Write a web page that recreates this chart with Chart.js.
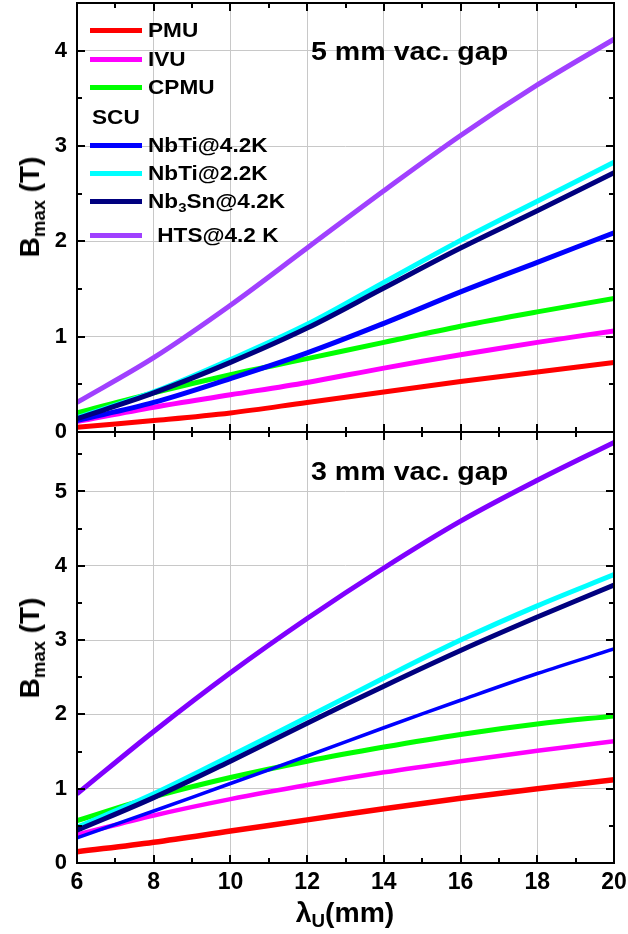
<!DOCTYPE html>
<html>
<head>
<meta charset="utf-8">
<title>Bmax vs undulator period</title>
<script src="https://cdn.jsdelivr.net/npm/chart.js@4.4.1/dist/chart.umd.min.js"></script>
<style>
  html, body { margin: 0; padding: 0; background: #fff; }
  #wrap { position: relative; width: 628px; height: 934px; overflow: hidden;
          font-family: Arial, "Liberation Sans", sans-serif; font-weight: bold; color: #000; }
  #wrap canvas { position: absolute; left: 0; }
  .ytitle { position: absolute; font-size: 28px; line-height: 1; white-space: nowrap;
            transform: translate(-50%, -50%) rotate(-90deg); }
  .ytitle sub, .xtitle sub, .leg sub { font-size: 0.66em; vertical-align: -0.32em; line-height: 0; }
  .xtitle { position: absolute; font-size: 27px; line-height: 1; white-space: nowrap;
            transform: translate(-50%, -50%) scaleX(1.05); }
  .gap { position: absolute; font-size: 26px; line-height: 1; white-space: nowrap;
         transform-origin: 0 50%; transform: translateY(-50%) scaleX(1.1); }
  .leg { position: absolute; left: 0; height: 0; white-space: pre; font-size: 20px; line-height: 1; }
  .leg i { position: absolute; left: 90px; top: -2.5px; width: 52px; height: 5px; }
  .leg span { position: absolute; top: 0; transform-origin: 0 50%; transform: translateY(-50%) scaleX(1.13); }
</style>
</head>
<body>
<div id="wrap">
  <canvas id="cTop" width="628" height="450" style="top:0;width:628px;height:450px"></canvas>
  <canvas id="cBot" width="628" height="514" style="top:420px;width:628px;height:514px"></canvas>
  <div id="legend"></div>
  <div class="gap" style="left:311px;top:51px">5 mm vac. gap</div>
  <div class="gap" style="left:311px;top:471px">3 mm vac. gap</div>
  <div class="ytitle" style="left:30px;top:207px">B<sub>max</sub> (T)</div>
  <div class="ytitle" style="left:30px;top:648px">B<sub>max</sub> (T)</div>
  <div class="xtitle" style="left:345px;top:913px">&lambda;<sub>U</sub>(mm)</div>
</div>
<script>
// undulator period (mm)
var lambdaU = [6, 8, 10, 12, 14, 16, 18, 20];

var seriesNames = ['PMU', 'IVU', 'CPMU', 'NbTi@4.2K', 'NbTi@2.2K', 'Nb<sub>3</sub>Sn@4.2K', ' HTS@4.2 K'];

// 5 mm vacuum gap, Bmax in T
var pmu5    = [0.05, 0.12, 0.20, 0.31, 0.42, 0.53, 0.63, 0.73];
var ivu5    = [0.11, 0.26, 0.39, 0.52, 0.67, 0.81, 0.94, 1.06];
var cpmu5   = [0.20, 0.41, 0.60, 0.77, 0.94, 1.11, 1.26, 1.40];
var nbti42_5 = [0.12, 0.31, 0.56, 0.83, 1.14, 1.47, 1.78, 2.09];
var nbti22_5 = [0.15, 0.42, 0.76, 1.13, 1.57, 2.01, 2.42, 2.83];
var nb3sn5  = [0.14, 0.41, 0.73, 1.09, 1.51, 1.93, 2.32, 2.72];
var hts5    = [0.31, 0.78, 1.33, 1.93, 2.53, 3.11, 3.64, 4.12];

// 3 mm vacuum gap, Bmax in T
var pmu3    = [0.15, 0.28, 0.43, 0.58, 0.73, 0.87, 1.00, 1.12];
var ivu3    = [0.38, 0.64, 0.86, 1.05, 1.22, 1.37, 1.51, 1.64];
var cpmu3   = [0.57, 0.89, 1.15, 1.37, 1.56, 1.73, 1.87, 1.98];
var nbti42_3 = [0.34, 0.70, 1.07, 1.44, 1.82, 2.19, 2.55, 2.88];
var nbti22_3 = [0.48, 0.93, 1.44, 1.96, 2.49, 3.00, 3.46, 3.88];
var nb3sn3  = [0.44, 0.88, 1.37, 1.88, 2.38, 2.86, 3.31, 3.74];
var hts3    = [0.93, 1.77, 2.56, 3.29, 3.97, 4.60, 5.15, 5.66];

var colors5 = ['#ff0000', '#ff00ff', '#00ff00', '#0000ff', '#00ffff', '#00007f', '#a040ff'];
var colors3 = ['#ff0000', '#ff00ff', '#00ff00', '#0000ff', '#00ffff', '#00007f', '#8000ff'];
var widths5 = [5, 5, 5, 5, 5, 5, 5];
var widths3 = [5.5, 4.5, 5, 3.5, 5, 5, 5];

var FONT_FAMILY = 'Arial, "Liberation Sans", sans-serif';
var GRID = { color: '#c8c8c8', lineWidth: 1, drawTicks: false };

// inward ticks on all four sides + black box
var frameTicks = {
  id: 'frameTicks',
  afterDatasetsDraw: function (chart) {
    var ctx = chart.ctx, a = chart.chartArea, x = chart.scales.x, y = chart.scales.y;
    ctx.save();
    ctx.strokeStyle = '#000';
    ctx.lineWidth = 2;
    ctx.strokeRect(a.left, a.top, a.right - a.left, a.bottom - a.top);
    ctx.beginPath();
    for (var v = x.min; v <= x.max; v += 1) {
      var px = Math.round(x.getPixelForValue(v));
      var len = v % 2 === 0 ? 8 : 5;
      ctx.moveTo(px, a.bottom); ctx.lineTo(px, a.bottom - len);
      ctx.moveTo(px, a.top); ctx.lineTo(px, a.top + len);
    }
    for (var w = 0; w <= y.max + 1e-9; w += 0.5) {
      var py = Math.round(y.getPixelForValue(w));
      var l2 = w % 1 === 0 ? 8 : 5;
      ctx.moveTo(a.left, py); ctx.lineTo(a.left + l2, py);
      ctx.moveTo(a.right, py); ctx.lineTo(a.right - l2, py);
    }
    ctx.stroke();
    ctx.restore();
  }
};

function toPoints(vals) {
  return vals.map(function (v, i) { return { x: lambdaU[i], y: v }; });
}

function makePanel(id, series, colors, widths, yMax, showX, pad) {
  var datasets = series.map(function (vals, i) {
    return {
      label: seriesNames[i],
      data: toPoints(vals),
      borderColor: colors[i],
      borderWidth: widths[i],
      pointRadius: 0,
      fill: false,
      tension: 0.35,
      order: series.length - i
    };
  });
  return new Chart(document.getElementById(id).getContext('2d'), {
    type: 'line',
    data: { datasets: datasets },
    options: {
      responsive: false,
      animation: false,
      events: [],
      layout: { padding: pad },
      plugins: { legend: { display: false }, tooltip: { enabled: false } },
      scales: {
        x: {
          type: 'linear', min: 6, max: 20,
          ticks: { stepSize: 2, display: showX, font: { family: FONT_FAMILY, size: 23, weight: 'bold' },
                   color: '#000', padding: 6, maxRotation: 0 },
          grid: GRID,
          border: { display: false },
          afterFit: function (s) { s.height = showX ? 71 : 0; s.paddingLeft = 0; s.paddingRight = 0; }
        },
        y: {
          min: 0, max: yMax,
          ticks: { stepSize: 1, includeBounds: false, font: { family: FONT_FAMILY, size: 22, weight: 'bold' },
                   color: '#000', padding: 10 },
          grid: GRID,
          border: { display: false },
          afterFit: function (s) { s.width = 77; s.paddingTop = 0; s.paddingBottom = 0; }
        }
      }
    },
    plugins: [frameTicks]
  });
}

// html legend built from the series names / colours
var legendRows = [
  { s: 0, y: 30 }, { s: 1, y: 59 }, { s: 2, y: 87 }, { s: 'SCU', y: 117 },
  { s: 3, y: 145 }, { s: 4, y: 173 }, { s: 5, y: 201 }, { s: 6, y: 235 }
];
document.getElementById('legend').innerHTML = legendRows.map(function (r) {
  if (r.s === 'SCU') return '<div class="leg" style="top:' + r.y + 'px"><span style="left:92px">SCU</span></div>';
  var tx = r.s === 6 ? 151 : 148;
  return '<div class="leg" style="top:' + r.y + 'px"><i style="background:' + colors5[r.s] + '"></i>' +
    '<span style="left:' + tx + 'px">' + seriesNames[r.s] + '</span></div>';
}).join('');

makePanel('cTop', [pmu5, ivu5, cpmu5, nbti42_5, nbti22_5, nb3sn5, hts5], colors5, widths5, 4.5, false,
  { top: 3, right: 14, bottom: 18, left: 0 });
makePanel('cBot', [pmu3, ivu3, cpmu3, nbti42_3, nbti22_3, nb3sn3, hts3], colors3, widths3, 5.8, true,
  { top: 12, right: 14, bottom: 0, left: 0 });
</script>
</body>
</html>
